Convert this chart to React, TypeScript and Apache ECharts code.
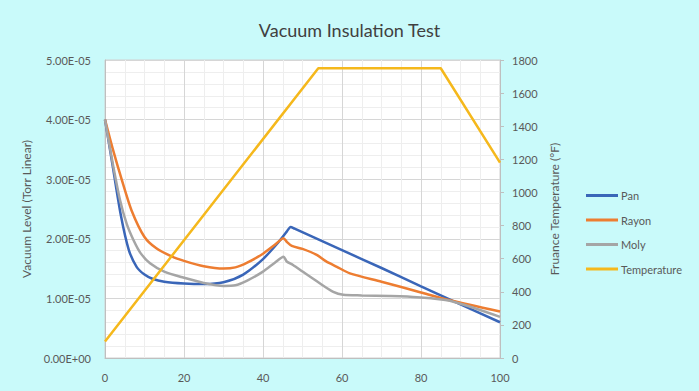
import React, { useEffect, useRef } from "react";
import * as echarts from "echarts";

// Vacuum level values in units of 1e-5 Torr
const panX = [0, 2, 4, 6, 8, 10, 12, 15, 20, 25, 30, 35, 40, 44, 46, 47, 48, 60, 70, 80, 90, 100];
const panY = [4.0, 3.2, 2.4, 1.82, 1.53, 1.4, 1.33, 1.28, 1.25, 1.24, 1.27, 1.4, 1.66, 1.95, 2.12, 2.2, 2.17, 1.81, 1.51, 1.2, 0.9, 0.6];

const rayonX = [0, 2, 4.2, 6.7, 10, 13, 17, 20, 25, 30, 33, 36, 40, 43, 45.2, 46, 47.3, 50, 53.6, 56, 58.7, 62, 70, 80, 87.3, 100];
const rayonY = [4.0, 3.5, 3.0, 2.48, 2.03, 1.84, 1.7, 1.63, 1.54, 1.5, 1.52, 1.6, 1.75, 1.9, 2.01, 1.95, 1.88, 1.83, 1.73, 1.62, 1.53, 1.42, 1.28, 1.1, 0.97, 0.78];

const molyX = [0, 2, 3.8, 5.5, 7.2, 9, 11.4, 15, 19.8, 25, 30, 33, 36, 40, 43, 45.2, 46, 47.6, 50, 54, 57.8, 60.3, 65, 72, 79, 87.3, 100];
const molyY = [4.0, 3.25, 2.65, 2.25, 1.98, 1.76, 1.59, 1.45, 1.35, 1.26, 1.21, 1.22, 1.3, 1.45, 1.6, 1.7, 1.62, 1.56, 1.45, 1.27, 1.11, 1.06, 1.05, 1.04, 1.02, 0.96, 0.69];

const tempX = [0, 54, 85, 100];
const tempY = [100, 1750, 1750, 1180];

const seriesNames = ["Pan", "Rayon", "Moly", "Temperature"];
const seriesColors = ["#3a66b8", "#ed7d31", "#a5a5a5", "#f5b81c"];

const zip = (xs: number[], ys: number[]) => xs.map((x, i) => [x, ys[i]]);

function sci(v: number): string {
  const s = (v * 1e-5).toExponential(2);
  const [m, e] = s.split("e");
  const sign = e[0] === "-" ? "-" : "+";
  const digits = e.replace(/[+-]/, "").padStart(2, "0");
  return `${m}E${sign}${digits}`;
}

export default function App() {
  const ref = useRef<HTMLDivElement>(null);
  useEffect(() => {
    if (!ref.current) return;
    const chart = echarts.init(ref.current, undefined, { renderer: "svg" });
    const font = "Lato, 'Open Sans', sans-serif";
    const labelColor = "#595959";
    const datasets = [zip(panX, panY), zip(rayonX, rayonY), zip(molyX, molyY), zip(tempX, tempY)];
    chart.setOption({
      animation: false,
      backgroundColor: "#c9fafa",
      textStyle: { fontFamily: font },
      title: {
        text: "Vacuum Insulation Test",
        left: "center",
        top: 16,
        textStyle: { fontFamily: font, fontSize: 18, fontWeight: "normal", color: "#404040" },
      },
      legend: {
        orient: "vertical",
        left: 586,
        top: 190,
        padding: 0,
        itemWidth: 32,
        itemHeight: 3,
        itemGap: 13.5,
        icon: "rect",
        data: seriesNames,
        textStyle: { fontFamily: font, fontSize: 11, color: labelColor, padding: [0, 0, 0, -2] },
      },
      grid: {
        left: 105,
        right: 199,
        top: 60,
        bottom: 33,
        show: true,
        backgroundColor: "#ffffff",
        borderColor: "#d0d0d0",
        borderWidth: 1,
      },
      xAxis: {
        type: "value",
        min: 0,
        max: 100,
        interval: 20,
        axisLine: { show: true, lineStyle: { color: "#bfbfbf" } },
        axisTick: { show: false },
        axisLabel: { color: labelColor, fontSize: 11, margin: 14, fontFamily: font },
        splitLine: { show: true, lineStyle: { color: "#d6d6d6" } },
        minorTick: { show: false, splitNumber: 4 },
        minorSplitLine: { show: true, lineStyle: { color: "#eeeeee" } },
      },
      yAxis: [
        {
          type: "value",
          min: 0,
          max: 5,
          interval: 1,
          name: "Vacuum Level (Torr Linear)",
          nameLocation: "middle",
          nameGap: 72,
          nameTextStyle: { color: labelColor, fontSize: 12, fontFamily: font },
          axisLine: { show: true, lineStyle: { color: "#bfbfbf" } },
          axisTick: { show: false },
          axisLabel: { color: labelColor, fontSize: 11, margin: 14, fontFamily: font, formatter: (v: number) => sci(v) },
          splitLine: { show: true, lineStyle: { color: "#d6d6d6" } },
          minorTick: { show: false, splitNumber: 5 },
          minorSplitLine: { show: true, lineStyle: { color: "#eeeeee" } },
        },
        {
          type: "value",
          min: 0,
          max: 1800,
          interval: 200,
          position: "right",
          name: "Fruance Temperature (°F)",
          nameLocation: "middle",
          nameGap: 45,
          nameTextStyle: { color: labelColor, fontSize: 12, fontFamily: font },
          axisLine: { show: true, lineStyle: { color: "#bfbfbf" } },
          axisTick: { show: true, length: 4, lineStyle: { color: "#bfbfbf" } },
          axisLabel: { color: labelColor, fontSize: 11, margin: 12, fontFamily: font, formatter: (v: number) => String(v) },
          splitLine: { show: false },
        },
      ],
      series: seriesNames.map((name, i) => ({
        name,
        type: "line",
        yAxisIndex: i === 3 ? 1 : 0,
        data: datasets[i],
        showSymbol: false,
        symbol: "none",
        smooth: i === 3 ? false : 0.25,
        lineStyle: { width: 2.5, color: seriesColors[i] },
        itemStyle: { color: seriesColors[i] },
      })),
    });
    return () => chart.dispose();
  }, []);
  return <div ref={ref} style={{ position: "fixed", left: 0, top: 0, width: 699, height: 391 }} />;
}
